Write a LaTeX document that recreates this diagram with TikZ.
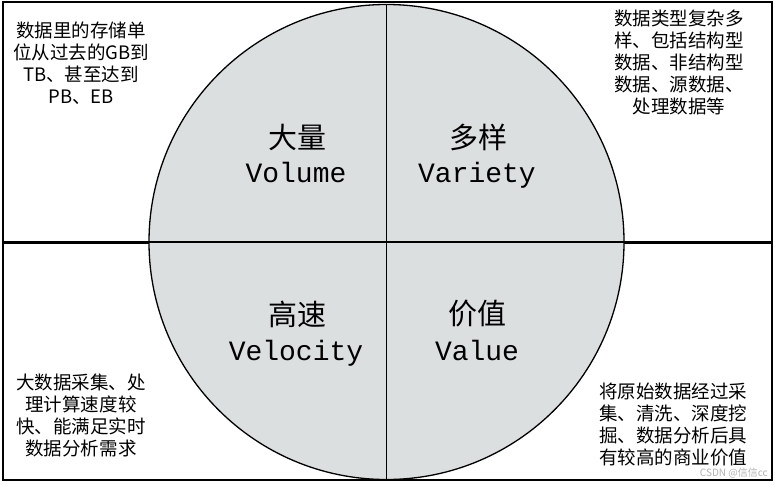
\documentclass[tikz,border=0pt]{standalone}
\usepackage{fontspec}
\newfontfamily\cjk{Noto Sans CJK SC}
\newfontfamily\monof{Liberation Mono}
\begin{document}
\begin{tikzpicture}[x=1pt,y=-1pt,
  corner/.style={font=\cjk\fontsize{18.5}{22}\selectfont, align=center, inner sep=0pt},
  titlecn/.style={font=\cjk\fontsize{29}{32}\selectfont, inner sep=0pt},
  titleen/.style={font=\monof\fontsize{28}{30}\selectfont, inner sep=0pt, anchor=base},
  frameline/.style={line width=2pt, black},
  thickline/.style={line width=3pt, black},
  thinline/.style={line width=1.3pt, black}]
\useasboundingbox (0,0) rectangle (775,484);
\fill[white] (0,0) rectangle (775,484);
% outer frame
\draw[frameline] (3,2) rectangle (772,480);
% circle
\coordinate (c) at (386.5,242);
\coordinate (L) at (3,242);
\coordinate (R) at (772,242);
\coordinate (cl) at (149,242);
\coordinate (cr) at (624,242);
\coordinate (ct) at (386.5,4.5);
\coordinate (cb) at (386.5,479.5);
\draw[thickline] (L) -- (cl);
\draw[thickline] (cr) -- (R);
\draw[fill={rgb,255:red,220;green,223;blue,224}, line width=1.3pt] (c) circle[radius=237.5];
\draw[thinline] (cl) -- (cr);
\draw[thinline] (ct) -- (cb);
% titles
\node[titlecn] (t1) at (297,137) {大量};
\node[titleen] (e1) at (296,182) {Volume};
\node[titlecn] (t2) at (478,137) {多样};
\node[titleen] (e2) at (477,182) {Variety};
\node[titlecn] (t3) at (297,314) {高速};
\node[titleen] (e3) at (296,360) {Velocity};
\node[titlecn] (t4) at (477,314) {价值};
\node[titleen] (e4) at (477,360) {Value};
% corner texts
\node[corner] (tl) at (81,63.5) {数据里的存储单\\位从过去的GB到\\TB、甚至达到\\PB、EB};
\node[corner] (tr) at (679,62.5) {数据类型复杂多\\样、包括结构型\\数据、非结构型\\数据、源数据、\\处理数据等};
\node[corner] (bl) at (81,415.5) {大数据采集、处\\理计算速度较\\快、能满足实时\\数据分析需求};
\node[corner] (br) at (673,425) {将原始数据经过采\\集、清洗、深度挖\\掘、数据分析后具\\有较高的商业价值};
\node[font=\cjk\fontsize{10}{11}\selectfont, text=black!30, inner sep=0pt, anchor=east] (wm) at (768,473.5) {CSDN @信信cc};
\end{tikzpicture}
\end{document}
